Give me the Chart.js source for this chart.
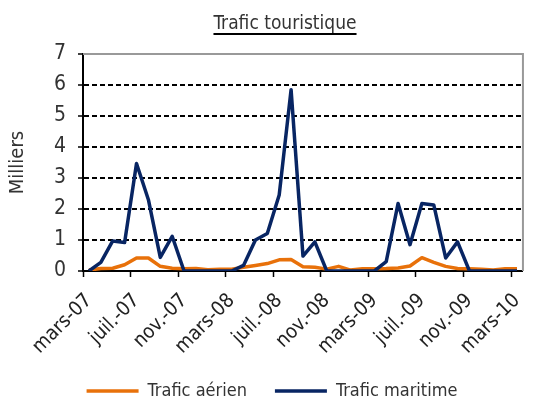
<!DOCTYPE html>
<html>
<head>
<meta charset="utf-8">
<script src="https://cdn.jsdelivr.net/npm/chart.js"></script>
<style>
  html, body { margin: 0; padding: 0; background: #fff; }
  #wrap { width: 546px; height: 403px; }
</style>
</head>
<body>
<div id="wrap"><canvas id="lineChart"></canvas></div>
<script>
const mois = [
  'mars-07', 'avr.-07', 'mai-07', 'juin-07', 'juil.-07', 'août-07', 'sept.-07', 'oct.-07', 'nov.-07', 'déc.-07',
  'janv.-08', 'févr.-08', 'mars-08', 'avr.-08', 'mai-08', 'juin-08', 'juil.-08', 'août-08', 'sept.-08', 'oct.-08', 'nov.-08', 'déc.-08',
  'janv.-09', 'févr.-09', 'mars-09', 'avr.-09', 'mai-09', 'juin-09', 'juil.-09', 'août-09', 'sept.-09', 'oct.-09', 'nov.-09', 'déc.-09',
  'janv.-10', 'févr.-10', 'mars-10'
];

// en milliers
const traficAerien = [
  0.03, 0.08, 0.09, 0.2, 0.42, 0.42, 0.15, 0.09, 0.07, 0.08,
  0.04, 0.06, 0.06, 0.12, 0.18, 0.24, 0.36, 0.37, 0.14, 0.12, 0.06, 0.15,
  0.03, 0.07, 0.07, 0.08, 0.1, 0.16, 0.43, 0.28, 0.15, 0.08, 0.07, 0.06,
  0.03, 0.07, 0.07
];
const traficMaritime = [
  0, 0.28, 0.97, 0.92, 3.47, 2.3, 0.44, 1.12, 0, 0,
  0, 0, 0, 0.18, 1.0, 1.21, 2.45, 5.85, 0.48, 0.94, 0, 0,
  0, 0, 0, 0.3, 2.18, 0.85, 2.18, 2.13, 0.42, 0.94, 0, 0,
  0, 0, 0
];
const graduationsY = [0, 1, 2, 3, 4, 5, 6, 7];

const police = '"Liberation Sans Narrow", "DejaVu Sans Condensed", "Liberation Sans", sans-serif';
Chart.defaults.font.family = police;
Chart.defaults.color = '#333';

// titre souligné + cadre gris du graphique
const habillage = {
  id: 'habillage',
  beforeDatasetsDraw(chart) {
    const { ctx, chartArea: a } = chart;
    ctx.save();
    ctx.strokeStyle = '#999';
    ctx.lineWidth = 2;
    ctx.beginPath();
    ctx.moveTo(a.left, a.top);
    ctx.lineTo(a.right, a.top);
    ctx.lineTo(a.right, a.bottom);
    ctx.stroke();
    ctx.restore();
  },
  afterDraw(chart) {
    const ctx = chart.ctx;
    const texte = 'Trafic touristique';
    ctx.save();
    ctx.font = '19px ' + police;
    ctx.fillStyle = '#333';
    ctx.textAlign = 'center';
    ctx.textBaseline = 'alphabetic';
    ctx.fillText(texte, 285, 29);
    const w = ctx.measureText(texte).width;
    ctx.strokeStyle = '#000';
    ctx.lineWidth = 2;
    ctx.beginPath();
    ctx.moveTo(285 - w / 2, 34);
    ctx.lineTo(285 + w / 2, 34);
    ctx.stroke();
    ctx.restore();
  }
};

const ctx = document.getElementById('lineChart');

new Chart(ctx, {
  type: 'line',
  data: {
    labels: mois,
    datasets: [{
      label: 'Trafic aérien',
      data: traficAerien,
      borderColor: '#E8710A',
      backgroundColor: '#E8710A',
      borderWidth: 3.5,
      pointRadius: 0,
      borderJoinStyle: 'round',
      order: 1
    }, {
      label: 'Trafic maritime',
      data: traficMaritime,
      borderColor: '#082563',
      backgroundColor: '#082563',
      borderWidth: 3.5,
      pointRadius: 0,
      borderJoinStyle: 'round',
      order: 0
    }]
  },
  options: {
    responsive: true,
    maintainAspectRatio: false,
    animation: false,
    layout: { padding: { top: 54, right: 2, left: 0, bottom: -7 } },
    plugins: {
      title: { display: false },
      tooltip: { enabled: false },
      legend: {
        position: 'bottom',
        labels: {
          sort: (a, b) => a.datasetIndex - b.datasetIndex,
          usePointStyle: true,
          pointStyle: 'line',
          pointStyleWidth: 52,
          boxHeight: 17,
          font: { size: 18 },
          color: '#333',
          padding: 28
        }
      }
    },
    scales: {
      x: {
        offset: true,
        afterFit: (s) => { s.height = 83; },
        grid: {
          offset: true,
          drawOnChartArea: false,
          tickLength: 6,
          tickWidth: 1.5,
          tickColor: (c) => (c.index % 4 === 0 ? '#000' : 'rgba(0,0,0,0)')
        },
        border: { color: '#000', width: 2 },
        ticks: {
          autoSkip: false,
          minRotation: 45,
          maxRotation: 45,
          padding: 12,
          color: '#222',
          font: { size: 20 },
          callback: (v, i) => (i % 4 === 0 ? mois[i] : '')
        }
      },
      y: {
        min: 0,
        max: 7,
        afterFit: (s) => { s.width = 83; },
        afterBuildTicks: (s) => { s.ticks = graduationsY.map(v => ({ value: v })); },
        title: {
          display: true,
          text: 'Milliers',
          font: { size: 20 },
          color: '#333',
          padding: { top: 6, bottom: 0 }
        },
        grid: {
          color: (c) => (c.tick && (c.tick.value === 0 || c.tick.value === 7) ? 'rgba(0,0,0,0)' : '#000'),
          lineWidth: 2,
          tickColor: '#000',
          tickWidth: 1.5,
          tickLength: 5
        },
        border: { color: '#000', width: 2, dash: [5, 3] },
        ticks: {
          padding: 12,
          color: '#333',
          font: { size: 21 }
        }
      }
    }
  },
  plugins: [habillage]
});
</script>
</body>
</html>
